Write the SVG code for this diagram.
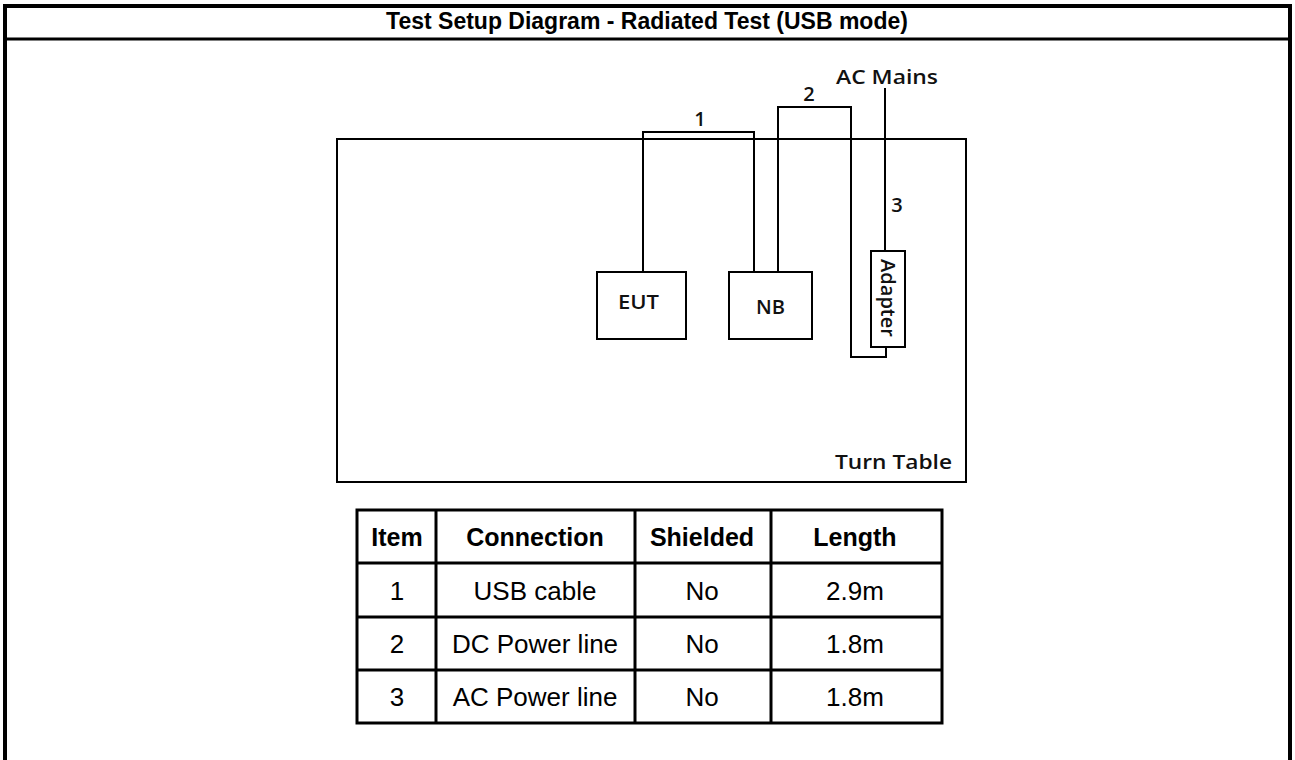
<svg xmlns="http://www.w3.org/2000/svg" width="1295" height="760" viewBox="0 0 1295 760">
<style>
.ln{fill:none;stroke:#000;stroke-width:2}
.box{fill:#fff;stroke:#000;stroke-width:2}
.dg{font-family:"Open Sans","Noto Sans",sans-serif;font-size:20px;font-weight:600;fill:#111}
.tb{fill:none;stroke:#000;stroke-width:3}
.th{font-family:"Liberation Sans",Arial,sans-serif;font-size:25px;font-weight:bold;text-anchor:middle;fill:#000}
.td{font-family:"Liberation Sans",Arial,sans-serif;font-size:26px;text-anchor:middle;fill:#000}
</style>
<rect x="0" y="0" width="1295" height="760" fill="#fff"/>
<g id="frame">
<path fill="none" stroke="#000" stroke-width="4" d="M5,800 V6 H1290 V800"/>
<line class="tb" x1="5" y1="39" x2="1290" y2="39"/>
<text x="647" y="29" font-family="Liberation Sans,Arial,sans-serif" font-size="23" font-weight="bold" text-anchor="middle">Test Setup Diagram - Radiated Test (USB mode)</text>
</g>
<g id="turntable">
<rect class="ln" x="337" y="139" width="629" height="343"/>
<text class="dg" x="835" y="469" textLength="117" lengthAdjust="spacingAndGlyphs">Turn Table</text>
</g>
<g id="connectors">
<path class="ln" d="M643,272 V132 H754 V272"/>
<path class="ln" d="M778,272 V107 H851 V357 H886 V347"/>
<path class="ln" d="M885,251 V88"/>
<text class="dg" x="700" y="126" text-anchor="middle">1</text>
<text class="dg" x="809" y="101" text-anchor="middle">2</text>
<text class="dg" x="897" y="212" text-anchor="middle">3</text>
<text class="dg" x="836" y="84" textLength="102" lengthAdjust="spacingAndGlyphs">AC Mains</text>
</g>
<g id="eut">
<rect class="box" x="597" y="272" width="89" height="67"/>
<text class="dg" x="618" y="309" textLength="41" lengthAdjust="spacingAndGlyphs">EUT</text>
</g>
<g id="nb">
<rect class="box" x="729" y="272" width="83" height="67"/>
<text class="dg" x="756" y="314" textLength="29" lengthAdjust="spacingAndGlyphs">NB</text>
</g>
<g id="adapter">
<rect class="box" x="871" y="251" width="34" height="96"/>
<text class="dg" transform="translate(881,298) rotate(90)" text-anchor="middle">Adapter</text>
</g>
<g id="table">
<rect class="tb" x="357" y="510" width="585" height="213"/>
<line class="tb" x1="436" y1="510" x2="436" y2="723"/>
<line class="tb" x1="635" y1="510" x2="635" y2="723"/>
<line class="tb" x1="771" y1="510" x2="771" y2="723"/>
<line class="tb" x1="357" y1="563" x2="942" y2="563"/>
<line class="tb" x1="357" y1="617" x2="942" y2="617"/>
<line class="tb" x1="357" y1="670" x2="942" y2="670"/>
<text class="th" x="397" y="546">Item</text>
<text class="th" x="535" y="546">Connection</text>
<text class="th" x="702" y="546">Shielded</text>
<text class="th" x="855" y="546">Length</text>
<text class="td" x="397" y="600">1</text>
<text class="td" x="535" y="600">USB cable</text>
<text class="td" x="702" y="600">No</text>
<text class="td" x="855" y="600">2.9m</text>
<text class="td" x="397" y="653">2</text>
<text class="td" x="535" y="653">DC Power line</text>
<text class="td" x="702" y="653">No</text>
<text class="td" x="855" y="653">1.8m</text>
<text class="td" x="397" y="706">3</text>
<text class="td" x="535" y="706">AC Power line</text>
<text class="td" x="702" y="706">No</text>
<text class="td" x="855" y="706">1.8m</text>
</g>
</svg>
